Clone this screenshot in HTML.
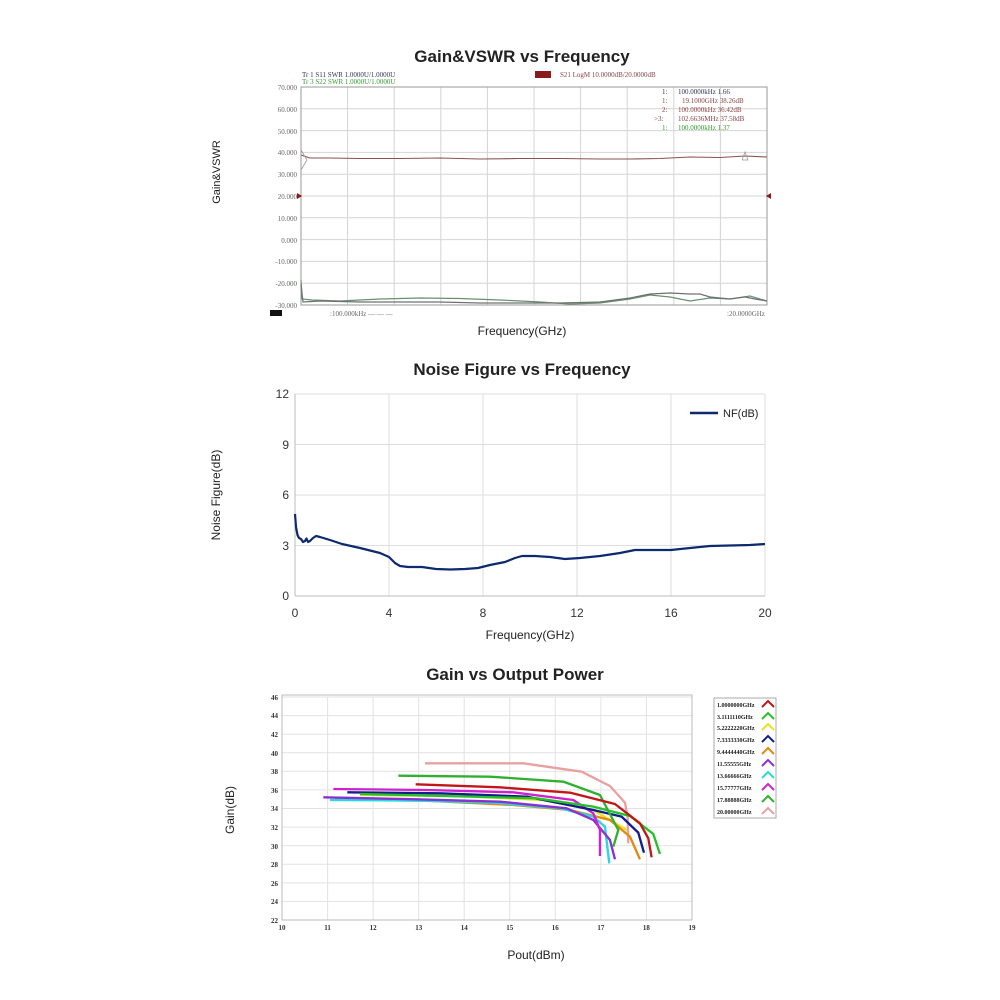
<!DOCTYPE html>
<html><head><meta charset="utf-8"><style>
html,body{margin:0;padding:0;background:#fff;}
svg{display:block;font-family:"Liberation Sans",sans-serif;}
.mono{font-family:"Liberation Serif",serif;font-size:7px;}
</style></head><body>
<svg width="1000" height="1000" viewBox="0 0 1000 1000" xmlns="http://www.w3.org/2000/svg">
<rect width="1000" height="1000" fill="#fff"/>

<!-- ===== Chart 1 ===== -->
<text x="522" y="62" font-size="17" font-weight="bold" text-anchor="middle" fill="#222">Gain&amp;VSWR vs Frequency</text>
<text x="220" y="172" font-size="11" fill="#222" text-anchor="middle" transform="rotate(-90 220 172)">Gain&amp;VSWR</text>
<text x="522" y="335" font-size="12" fill="#222" text-anchor="middle">Frequency(GHz)</text>
<g stroke="#d4d4d4" stroke-width="1">
<line x1="301" y1="87" x2="767" y2="87"/><line x1="301" y1="108.8" x2="767" y2="108.8"/>
<line x1="301" y1="130.6" x2="767" y2="130.6"/><line x1="301" y1="152.4" x2="767" y2="152.4"/>
<line x1="301" y1="174.2" x2="767" y2="174.2"/><line x1="301" y1="196" x2="767" y2="196"/>
<line x1="301" y1="217.8" x2="767" y2="217.8"/><line x1="301" y1="239.6" x2="767" y2="239.6"/>
<line x1="301" y1="261.4" x2="767" y2="261.4"/><line x1="301" y1="283.2" x2="767" y2="283.2"/>
<line x1="347.6" y1="87" x2="347.6" y2="305"/><line x1="394.2" y1="87" x2="394.2" y2="305"/>
<line x1="440.8" y1="87" x2="440.8" y2="305"/><line x1="487.4" y1="87" x2="487.4" y2="305"/>
<line x1="534" y1="87" x2="534" y2="305"/><line x1="580.6" y1="87" x2="580.6" y2="305"/>
<line x1="627.2" y1="87" x2="627.2" y2="305"/><line x1="673.8" y1="87" x2="673.8" y2="305"/>
<line x1="720.4" y1="87" x2="720.4" y2="305"/>
</g>
<rect x="301" y="87" width="466" height="218" fill="none" stroke="#999" stroke-width="1"/>
<g class="mono" fill="#666" text-anchor="end">
<text x="297" y="90">70.000</text><text x="297" y="112">60.000</text><text x="297" y="134">50.000</text>
<text x="297" y="155">40.000</text><text x="297" y="177">30.000</text><text x="297" y="199">20.000</text>
<text x="297" y="221">10.000</text><text x="297" y="243">0.000</text><text x="297" y="264">-10.000</text>
<text x="297" y="286">-20.000</text><text x="297" y="308">-30.000</text>
</g>
<g class="mono">
<text x="302" y="77" fill="#335">Tr 1  S11 SWR 1.0000U/1.0000U</text>
<text x="302" y="84" fill="#393">Tr 3  S22 SWR 1.0000U/1.0000U</text>
<rect x="535" y="71" width="16" height="7" fill="#8b1a1a"/>
<text x="560" y="77" fill="#844">S21 LogM 10.0000dB/20.0000dB</text>
<text x="662" y="94" fill="#335">1:</text><text x="678" y="94" fill="#335">100.0000kHz 1.66</text>
<text x="662" y="103" fill="#844">1:</text><text x="682" y="103" fill="#844">19.1000GHz 38.26dB</text>
<text x="662" y="112" fill="#844">2:</text><text x="678" y="112" fill="#844">100.0000kHz 36.42dB</text>
<text x="654" y="121" fill="#844">&gt;3:</text><text x="678" y="121" fill="#844">102.6636MHz 37.58dB</text>
<text x="662" y="130" fill="#393">1:</text><text x="678" y="130" fill="#393">100.0000kHz 1.37</text>
<rect x="270" y="310" width="12" height="6" fill="#111"/>
<text x="330" y="316" fill="#666">:100.000kHz  ― ― ―</text>
<text x="727" y="316" fill="#666">:20.0000GHz</text>
</g>
<polygon points="297,193 302,196 297,199" fill="#8b1a1a"/>
<polygon points="771,193 766,196 771,199" fill="#8b1a1a"/>
<polyline fill="none" stroke="#8a5050" stroke-width="1.1" points="301,155 310,158 330,158 360,158.5 400,158.5 440,158 480,159 520,158.5 560,158.5 600,159 630,159 660,158.5 690,157 720,157.5 745,156 767,157"/>
<polyline fill="none" stroke="#999" stroke-width="0.8" points="301,170 301,150 307,160 301,170"/>
<polyline fill="none" stroke="#999" stroke-width="0.8" points="742,160 745,152 748,160 742,160"/>
<polyline fill="none" stroke="#6a8f70" stroke-width="1.2" points="301,280 302,299 312,300 340,301 380,299 420,298 460,298.5 500,300 540,302 570,304 600,303 630,299 650,295 670,297 690,301 710,298 730,299 750,296 767,301"/>
<polyline fill="none" stroke="#707070" stroke-width="1.2" points="301,284 303,302 320,301 360,302 400,302 440,302 480,303 520,303 560,303 600,302 630,298 650,294 670,293 690,294 700,294 710,297 730,299 745,297 755,299 767,301"/>

<!-- ===== Chart 2 ===== -->
<text x="522" y="375" font-size="17" font-weight="bold" text-anchor="middle" fill="#222">Noise Figure vs Frequency</text>
<text x="220" y="495" font-size="12" fill="#222" text-anchor="middle" transform="rotate(-90 220 495)">Noise Figure(dB)</text>
<text x="530" y="639" font-size="12" fill="#222" text-anchor="middle">Frequency(GHz)</text>
<g stroke="#dedede" stroke-width="1">
<line x1="295" y1="394" x2="765" y2="394"/><line x1="295" y1="444.5" x2="765" y2="444.5"/>
<line x1="295" y1="495" x2="765" y2="495"/><line x1="295" y1="545.5" x2="765" y2="545.5"/>
<line x1="389" y1="394" x2="389" y2="596"/><line x1="483" y1="394" x2="483" y2="596"/>
<line x1="577" y1="394" x2="577" y2="596"/><line x1="671" y1="394" x2="671" y2="596"/>
<line x1="765" y1="394" x2="765" y2="596"/>
</g>
<line x1="295" y1="596" x2="765" y2="596" stroke="#bbb"/>
<line x1="295" y1="394" x2="295" y2="596" stroke="#bbb"/>
<g font-size="12" fill="#333" text-anchor="end">
<text x="289" y="398">12</text><text x="289" y="449">9</text><text x="289" y="499">6</text>
<text x="289" y="550">3</text><text x="289" y="600">0</text>
</g>
<g font-size="12" fill="#333" text-anchor="middle">
<text x="295" y="617">0</text><text x="389" y="617">4</text><text x="483" y="617">8</text>
<text x="577" y="617">12</text><text x="671" y="617">16</text><text x="765" y="617">20</text>
</g>
<line x1="690" y1="413" x2="718" y2="413" stroke="#0d2a6e" stroke-width="2.5"/>
<text x="723" y="417" font-size="11" fill="#222">NF(dB)</text>
<polyline fill="none" stroke="#0d2a6e" stroke-width="2.2" stroke-linejoin="round" points="295,514 296,527 297.5,535 299,538 301,539 303,542 305,541 306.5,538.5 308,542 310,541 313,538 316,536 320,537 330,540 342,544 360,548 380,553 389,557 395,563 400,566 408,567 422,567 436,569 450,569.5 465,569 478,568 490,565 505,562 515,558 522,556 535,556 550,557 565,559 580,558 600,556 620,553 635,550 650,550 671,550 690,548 710,546 730,545.5 750,545 765,544"/>

<!-- ===== Chart 3 ===== -->
<text x="515" y="680" font-size="17" font-weight="bold" text-anchor="middle" fill="#222">Gain vs Output Power</text>
<text x="234" y="810" font-size="12" fill="#222" text-anchor="middle" transform="rotate(-90 234 810)">Gain(dB)</text>
<text x="536" y="959" font-size="12" fill="#222" text-anchor="middle">Pout(dBm)</text>
<g stroke="#e2e2e2" stroke-width="1">
<line x1="282" y1="697" x2="692" y2="697"/><line x1="282" y1="715.6" x2="692" y2="715.6"/>
<line x1="282" y1="734.2" x2="692" y2="734.2"/><line x1="282" y1="752.8" x2="692" y2="752.8"/>
<line x1="282" y1="771.3" x2="692" y2="771.3"/><line x1="282" y1="789.9" x2="692" y2="789.9"/>
<line x1="282" y1="808.5" x2="692" y2="808.5"/><line x1="282" y1="827.1" x2="692" y2="827.1"/>
<line x1="282" y1="845.7" x2="692" y2="845.7"/><line x1="282" y1="864.3" x2="692" y2="864.3"/>
<line x1="282" y1="882.9" x2="692" y2="882.9"/><line x1="282" y1="901.4" x2="692" y2="901.4"/>
<line x1="327.6" y1="697" x2="327.6" y2="920"/><line x1="373.1" y1="697" x2="373.1" y2="920"/>
<line x1="418.7" y1="697" x2="418.7" y2="920"/><line x1="464.2" y1="697" x2="464.2" y2="920"/>
<line x1="509.8" y1="697" x2="509.8" y2="920"/><line x1="555.3" y1="697" x2="555.3" y2="920"/>
<line x1="600.9" y1="697" x2="600.9" y2="920"/><line x1="646.4" y1="697" x2="646.4" y2="920"/>
</g>
<rect x="282" y="695" width="410" height="225" fill="none" stroke="#bbb"/>
<g font-size="7" font-weight="bold" fill="#333" text-anchor="end" font-family="Liberation Serif,serif">
<text x="278" y="700">46</text><text x="278" y="718">44</text><text x="278" y="737">42</text>
<text x="278" y="756">40</text><text x="278" y="774">38</text><text x="278" y="793">36</text>
<text x="278" y="811">34</text><text x="278" y="830">32</text><text x="278" y="849">30</text>
<text x="278" y="867">28</text><text x="278" y="886">26</text><text x="278" y="904">24</text>
<text x="278" y="923">22</text>
</g>
<g font-size="7" font-weight="bold" fill="#333" text-anchor="middle" font-family="Liberation Serif,serif">
<text x="282" y="930">10</text><text x="327.6" y="930">11</text><text x="373.1" y="930">12</text>
<text x="418.7" y="930">13</text><text x="464.2" y="930">14</text><text x="509.8" y="930">15</text>
<text x="555.3" y="930">16</text><text x="600.9" y="930">17</text><text x="646.4" y="930">18</text>
<text x="692" y="930">19</text>
</g>
<g transform="translate(260,690) scale(0.3333)" fill="none" stroke-width="7" stroke-linejoin="round">
<polyline stroke="#e8a0a0" points="495,220 790,220 965,245 1050,288 1095,338 1103,380 1105,460"/>
<polyline stroke="#e8e020" points="300,315 600,318 850,330 1000,360 1100,420"/>
<polyline stroke="#e08a10" points="225,328 500,332 760,345 930,360 1050,390 1110,440 1140,508"/>
<polyline stroke="#28d8e0" points="210,330 480,332 700,338 900,355 1000,380 1035,410 1048,520"/>
<polyline stroke="#8a30d0" points="190,322 470,328 720,335 920,355 1000,390 1050,450 1065,508"/>
<polyline stroke="#d020d0" points="220,297 500,300 760,307 940,330 1000,370 1020,420 1020,498"/>
<polyline stroke="#10208a" points="262,307 540,310 800,320 1000,360 1085,380 1135,428 1152,488"/>
<polyline stroke="#28c028" points="300,312 830,325 1000,350 1110,378 1180,432 1200,492"/>
<polyline stroke="#30b030" points="415,257 690,260 910,275 1020,315 1075,420 1060,470"/>
<polyline stroke="#c01818" points="467,283 720,292 930,308 1065,342 1140,400 1165,445 1175,502"/>
</g>
<rect x="714" y="698" width="62" height="120" fill="#fff" stroke="#aaa"/>
<g font-size="6" font-weight="bold" fill="#222" font-family="Liberation Serif,serif">
<text x="717" y="707">1.0000000GHz</text><text x="717" y="719">3.1111110GHz</text>
<text x="717" y="730">5.2222220GHz</text><text x="717" y="742">7.3333330GHz</text>
<text x="717" y="754">9.4444440GHz</text><text x="717" y="766">11.55555GHz</text>
<text x="717" y="778">13.66666GHz</text><text x="717" y="790">15.77777GHz</text>
<text x="717" y="802">17.88888GHz</text><text x="717" y="814">20.00000GHz</text>
</g>
<g fill="none" stroke-width="2">
<polyline stroke="#c01818" points="762,707 768,701 774,707"/>
<polyline stroke="#28c028" points="762,719 768,713 774,719"/>
<polyline stroke="#e8e020" points="762,730 768,724 774,730"/>
<polyline stroke="#10208a" points="762,742 768,736 774,742"/>
<polyline stroke="#e08a10" points="762,754 768,748 774,754"/>
<polyline stroke="#8a30d0" points="762,766 768,760 774,766"/>
<polyline stroke="#28d8e0" points="762,778 768,772 774,778"/>
<polyline stroke="#d020d0" points="762,790 768,784 774,790"/>
<polyline stroke="#30b030" points="762,802 768,796 774,802"/>
<polyline stroke="#e8a0a0" points="762,814 768,808 774,814"/>
</g>
</svg>
</body></html>
